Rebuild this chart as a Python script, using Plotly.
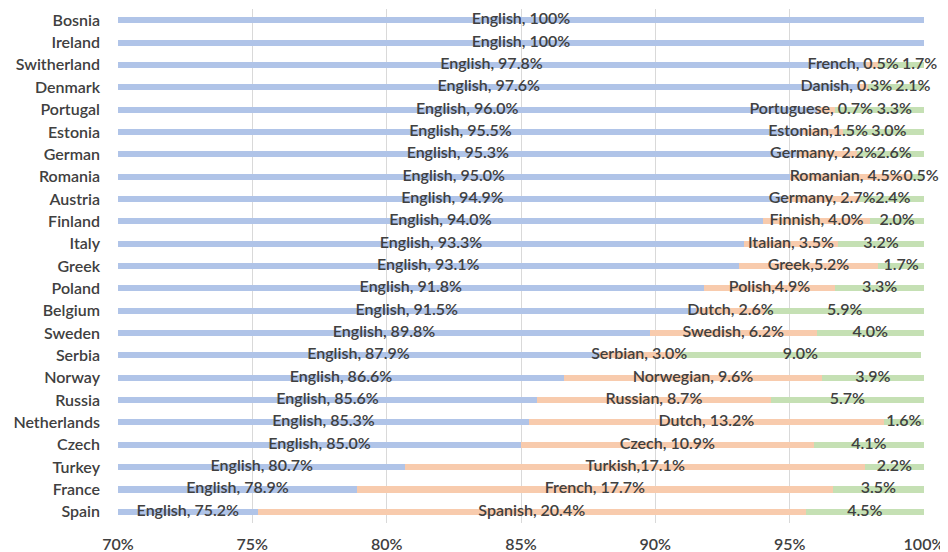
import plotly.graph_objects as go

countries = ["Bosnia", "Ireland", "Switherland", "Denmark", "Portugal", "Estonia", "German",
             "Romania", "Austria", "Finland", "Italy", "Greek", "Poland", "Belgium", "Sweden",
             "Serbia", "Norway", "Russia", "Netherlands", "Czech", "Turkey", "France", "Spain"]
english = [100, 100, 97.8, 97.6, 96.0, 95.5, 95.3, 95.0, 94.9, 94.0, 93.3, 93.1, 91.8, 91.5,
           89.8, 87.9, 86.6, 85.6, 85.3, 85.0, 80.7, 78.9, 75.2]
local = [0, 0, 0.5, 0.3, 0.7, 1.5, 2.2, 4.5, 2.7, 4.0, 3.5, 5.2, 4.9, 2.6, 6.2, 3.0, 9.6, 8.7,
         13.2, 10.9, 17.1, 17.7, 20.4]
other = [0, 0, 1.7, 2.1, 3.3, 3.0, 2.6, 0.5, 2.4, 2.0, 3.2, 1.7, 3.3, 5.9, 4.0, 9.0, 3.9, 5.7,
         1.6, 4.1, 2.2, 3.5, 4.5]
english_labels = ["English, 100%", "English, 100%", "English, 97.8%", "English, 97.6%",
                  "English, 96.0%", "English, 95.5%", "English, 95.3%", "English, 95.0%",
                  "English, 94.9%", "English, 94.0%", "English, 93.3%", "English, 93.1%",
                  "English, 91.8%", "English, 91.5%", "English, 89.8%", "English, 87.9%",
                  "English, 86.6%", "English, 85.6%", "English, 85.3%", "English, 85.0%",
                  "English, 80.7%", "English, 78.9%", "English, 75.2%"]
local_labels = ["", "", "French, 0.5%", "Danish, 0.3%", "Portuguese, 0.7%", "Estonian,1.5%",
                "Germany, 2.2%", "Romanian, 4.5%", "Germany, 2.7%", "Finnish, 4.0%",
                "Italian, 3.5%", "Greek,5.2%", "Polish,4.9%", "Dutch, 2.6%", "Swedish, 6.2%",
                "Serbian, 3.0%", "Norwegian, 9.6%", "Russian, 8.7%", "Dutch, 13.2%",
                "Czech, 10.9%", "Turkish,17.1%", "French, 17.7%", "Spanish, 20.4%"]
other_labels = ["", "", "1.7%", "2.1%", "3.3%", "3.0%", "2.6%", "0.5%", "2.4%", "2.0%", "3.2%",
                "1.7%", "3.3%", "5.9%", "4.0%", "9.0%", "3.9%", "5.7%", "1.6%", "4.1%", "2.2%",
                "3.5%", "4.5%"]
x_ticks = [70, 75, 80, 85, 90, 95, 100]
x_tick_labels = ["70%", "75%", "80%", "85%", "90%", "95%", "100%"]

XMIN, XMAX = 70, 100
BLUE, ORANGE, GREEN = "#b0c4e8", "#f8cbad", "#c5e0b4"
TXT = "#404040"
FONT = "Lato"
LABEL_SIZE = 16

# page has an 8px body margin; place the plot area accordingly
L, R, T, B = 110, 32, 1, 37
FIG_W, FIG_H = 948, 552
px_per_unit = (FIG_W - L - R) / (XMAX - XMIN)
char_px = LABEL_SIZE * 0.52  # rough average glyph width


def est_w(s):
    return len(s) * char_px / px_per_unit


fig = go.Figure()
for vals, col, name in [(english, BLUE, "English"), (local, ORANGE, "Local"), (other, GREEN, "Other")]:
    fig.add_trace(go.Bar(y=countries, x=vals, orientation="h", marker=dict(color=col, line_width=0),
                         width=0.27, name=name, showlegend=False, hoverinfo="x+y"))

# label positions: centre of visible part of each segment, nudged apart when crowded
tx, ty, tt = [], [], []
for c, e, l, o, el, ll, ol in zip(countries, english, local, other, english_labels, local_labels, other_labels):
    segs = [(0, e, el), (e, e + l, ll), (e + l, e + l + o, ol)]
    pos = []
    for a, b, lab in segs:
        if not lab:
            continue
        a2, b2 = max(a, XMIN), min(b, XMAX)
        pos.append([(a2 + b2) / 2, lab])
    for i in range(len(pos) - 1):
        need = (est_w(pos[i][1]) + est_w(pos[i + 1][1])) / 2
        gap = pos[i + 1][0] - pos[i][0]
        if gap < need:
            d = (need - gap) / 2
            pos[i][0] -= d
            pos[i + 1][0] += d
    for xp, lab in pos:
        tx.append(xp)
        ty.append(c)
        tt.append(lab)

fig.add_trace(go.Scatter(x=tx, y=ty, text=tt, mode="text", textposition="middle center",
                         textfont=dict(family=FONT, size=LABEL_SIZE, color=TXT, weight=600),
                         showlegend=False, hoverinfo="skip", cliponaxis=False))

fig.update_layout(
    width=FIG_W, height=FIG_H, barmode="stack",
    margin=dict(l=L, r=R, t=T, b=B, autoexpand=False),
    plot_bgcolor="white", paper_bgcolor="white",
    font=dict(family=FONT, color=TXT),
)
fig.update_xaxes(range=[XMIN, XMAX], tickvals=x_ticks, ticktext=x_tick_labels,
                 showgrid=True, gridcolor="#d9d9d9", gridwidth=1, zeroline=False,
                 showline=False, ticks="", ticklabelstandoff=10, automargin=False,
                 tickfont=dict(family=FONT, size=16, color=TXT, weight=600))
fig.update_yaxes(categoryorder="array", categoryarray=countries,
                 range=[len(countries) - 0.5, -0.5],
                 showgrid=False, zeroline=False, showline=False, ticks="",
                 ticklabelstandoff=17, automargin=False,
                 tickfont=dict(family=FONT, size=16, color=TXT, weight=600))

fig.write_html("out.html")
